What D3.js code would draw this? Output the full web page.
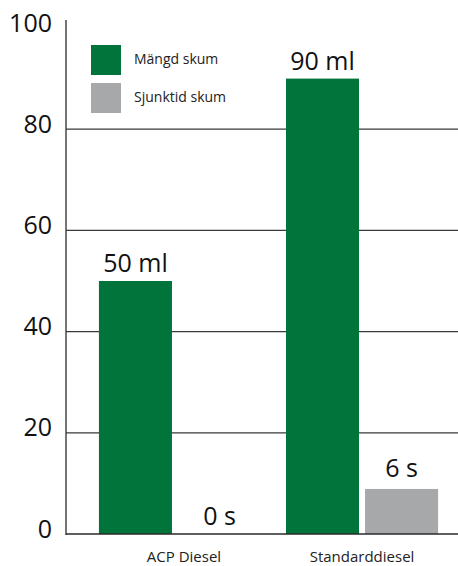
<!DOCTYPE html>
<html>
<head>
<meta charset="utf-8">
<script src="https://cdn.jsdelivr.net/npm/d3@7"></script>
<style>
body { margin: 0; background: #fff; }
svg { display: block; font-family: "Open Sans", sans-serif; }
</style>
</head>
<body>
<svg id="chart" width="458" height="566"></svg>
<script>
// --- data ---
var categories = ['ACP Diesel', 'Standarddiesel'];
var seriesNames = ['Mängd skum', 'Sjunktid skum'];
var foamValues = [50, 90];          // Mängd skum (ml)
var sinkValues = [0, 8.9];          // Sjunktid skum, bar height as drawn
var foamLabels = ['50 ml', '90 ml'];
var sinkLabels = ['0 s', '6 s'];
var yTicks = [0, 20, 40, 60, 80, 100];

var colours = ['#00743a', '#a7a8aa'];

var svg = d3.select('#chart');

var y = d3.scaleLinear().domain([0, 100]).range([534, 28]);

var x = d3.scaleBand()
    .domain(categories)
    .range([66, 471])
    .paddingInner(0.187)
    .paddingOuter(0.176);

var xSub = d3.scaleBand()
    .domain(seriesNames)
    .range([0, x.bandwidth()])
    .paddingInner(0.076);

//-------------------------------------------------------------------------------
// gridlines + tick labels

svg.append('g')
    .selectAll('line')
    .data(yTicks.filter(t => t > 0 && t < 100))
    .join('line')
    .attr('x1', 66).attr('x2', 458)
    .attr('y1', d => y(d)).attr('y2', d => y(d))
    .attr('stroke', '#3a3a3a')
    .attr('stroke-width', 1.2);

svg.append('g')
    .selectAll('text')
    .data(yTicks)
    .join('text')
    .attr('x', 52)
    .attr('y', d => y(d) - 3)
    .attr('text-anchor', 'end')
    .attr('dominant-baseline', 'middle')
    .attr('font-size', 25)
    .attr('fill', '#111')
    .text(d => d);

//-------------------------------------------------------------------------------
// bars

var rows = categories.map((c, i) => ({
    cat: c,
    bars: [
        { s: seriesNames[0], v: foamValues[i], lab: foamLabels[i], col: colours[0] },
        { s: seriesNames[1], v: sinkValues[i], lab: sinkLabels[i], col: colours[1] }
    ]
}));

var g = svg.append('g')
    .selectAll('g')
    .data(rows)
    .join('g')
    .attr('transform', d => `translate(${x(d.cat)},0)`);

g.selectAll('rect')
    .data(d => d.bars)
    .join('rect')
    .attr('x', d => xSub(d.s))
    .attr('width', xSub.bandwidth())
    .attr('y', d => y(d.v))
    .attr('height', d => y(0) - y(d.v))
    .attr('fill', d => d.col);

g.selectAll('text.val')
    .data(d => d.bars)
    .join('text')
    .attr('class', 'val')
    .attr('x', d => xSub(d.s) + xSub.bandwidth() / 2 + (d.v === 0 ? 5 : 0))
    .attr('y', d => y(d.v) - (d.s === seriesNames[1] && d.v > 0 ? 12 : 9))
    .attr('text-anchor', 'middle')
    .attr('font-size', 25)
    .attr('fill', '#111')
    .text(d => d.lab);

g.append('text')
    .attr('x', (d, i) => x.bandwidth() / 2 + (i === 0 ? 9 : 0))
    .attr('y', 562)
    .attr('text-anchor', 'middle')
    .attr('font-size', 15)
    .attr('fill', '#222')
    .text(d => d.cat);

//-------------------------------------------------------------------------------
// axes lines

svg.append('line')
    .attr('x1', 66).attr('x2', 66)
    .attr('y1', 20).attr('y2', 535)
    .attr('stroke', '#3a3a3a').attr('stroke-width', 1.4);

svg.append('line')
    .attr('x1', 66).attr('x2', 458)
    .attr('y1', y(0)).attr('y2', y(0))
    .attr('stroke', '#2a2a2a').attr('stroke-width', 1.6);

//-------------------------------------------------------------------------------
// legend

var leg = svg.append('g')
    .selectAll('g')
    .data(seriesNames)
    .join('g')
    .attr('transform', (d, i) => `translate(91,${45 + i * 38})`);

leg.append('rect')
    .attr('width', 30).attr('height', 30)
    .attr('fill', (d, i) => colours[i]);

leg.append('text')
    .attr('x', 43).attr('y', 15)
    .attr('dominant-baseline', 'middle')
    .attr('font-size', 14)
    .attr('fill', '#222')
    .text(d => d);
</script>
</body>
</html>
